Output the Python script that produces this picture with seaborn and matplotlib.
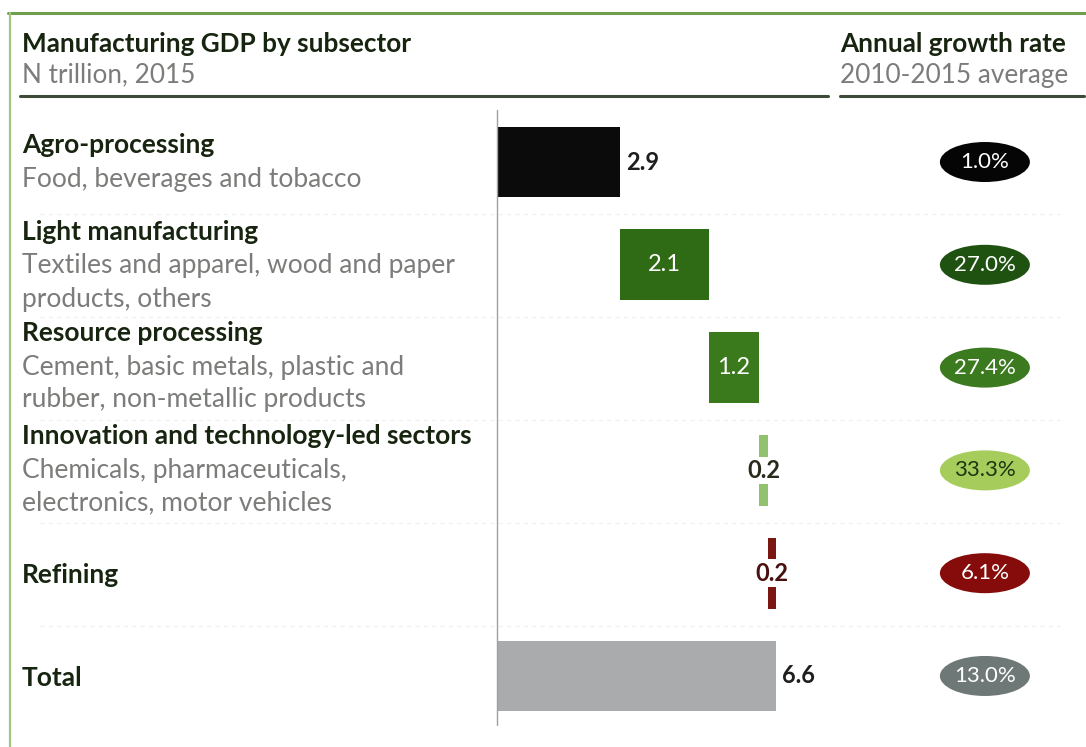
import matplotlib
matplotlib.use("Agg")
import matplotlib.pyplot as plt
from matplotlib.patches import Ellipse
import seaborn as sns
import pandas as pd

# Manufacturing GDP by subsector, N trillion (2015)
sectors = ["Agro-processing", "Light manufacturing", "Resource processing",
           "Innovation and technology-led sectors", "Refining", "Total"]
descriptions = ["Food, beverages and tobacco",
                "Textiles and apparel, wood and paper\nproducts, others",
                "Cement, basic metals, plastic and\nrubber, non-metallic products",
                "Chemicals, pharmaceuticals,\nelectronics, motor vehicles",
                "", ""]
gdp = [2.9, 2.1, 1.2, 0.2, 0.2, 6.6]
growth_labels = ["1.0%", "27.0%", "27.4%", "33.3%", "6.1%", "13.0%"]

bar_colors = ["#0b0b0b", "#2f6a14", "#3a7a1c", "#93c26e", "#7a1710", "#a9abad"]
oval_colors = ["#050505", "#1f5211", "#3b7a1f", "#a6cd5c", "#860c0c", "#6e7876"]
oval_text = ["white", "white", "white", "#1d3510", "white", "white"]
label_style = ["outside", "inside", "inside", "center", "center", "outside"]

sns.set_theme(style="white")
plt.rcParams["font.family"] = ["Lato", "DejaVu Sans"]

W, H = 1086, 747
fig = plt.figure(figsize=(W / 100, H / 100), dpi=100)
fig.patch.set_facecolor("white")


def fx(px):
    return px / W


def fy(py):
    return 1 - py / H


TXT = 19
HDR = 18.8
VAL = 17
OVAL = 16

# outer frame
fig.add_artist(plt.Line2D([fx(8), fx(1086)], [fy(13), fy(13)], color="#6f9f4c", lw=2.2))
fig.add_artist(plt.Line2D([fx(10), fx(10)], [fy(13), fy(747)], color="#a3c484", lw=1.6))

# headers
dark = "#17240f"
grey = "#7b7d7a"
fig.text(fx(22), fy(44), "Manufacturing GDP by subsector", fontsize=HDR, fontweight="bold",
         color=dark, va="center", ha="left")
fig.text(fx(22), fy(75), "N trillion, 2015", fontsize=HDR, color=grey, va="center", ha="left")
fig.text(fx(840), fy(44), "Annual growth rate", fontsize=HDR, fontweight="bold",
         color=dark, va="center", ha="left")
fig.text(fx(840), fy(75), "2010-2015 average", fontsize=HDR, color=grey, va="center", ha="left")
fig.add_artist(plt.Line2D([fx(20), fx(828)], [fy(96), fy(96)], color="#3e4a38", lw=2.2))
fig.add_artist(plt.Line2D([fx(840), fx(1084)], [fy(96), fy(96)], color="#3e4a38", lw=2.2))

# faint row separators
for sy in [214, 317, 420, 523, 626]:
    fig.add_artist(plt.Line2D([fx(40), fx(1060)], [fy(sy), fy(sy)], color="#f0f0f0",
                              lw=1, ls=(0, (3, 3)), zorder=0))

# waterfall bars
df = pd.DataFrame({"sector": sectors, "gdp": gdp})
ax = fig.add_axes([fx(497), fy(725), fx(830) - fx(497), fy(110) - fy(725)])
sns.barplot(data=df, x="gdp", y="sector", hue="sector", palette=bar_colors,
            legend=False, width=0.69, orient="h", ax=ax, saturation=1)

starts = []
running = 0.0
for i, v in enumerate(gdp):
    if i == len(gdp) - 1:
        starts.append(0.0)
    else:
        starts.append(running)
        running += v

for i, patch in enumerate(ax.patches):
    patch.set_x(starts[i])
    patch.set_edgecolor("none")

ax.set_xlim(0, 7.87)
ax.set_ylim(5.477, -0.506)
ax.axis("off")
ax.plot([0, 0], [-0.506, 5.477], color="#a0a0a0", lw=1, clip_on=False)

for i, v in enumerate(gdp):
    end = starts[i] + v
    if label_style[i] == "outside":
        ax.text(end + 0.14, i, f"{v:.1f}", ha="left", va="center", fontsize=VAL,
                fontweight="bold", color="#1e1e1e")
    elif label_style[i] == "inside":
        ax.text(starts[i] + v / 2, i, f"{v:.1f}", ha="center", va="center", fontsize=VAL,
                color="white")
    else:
        ax.text(starts[i] + v / 2, i, f"{v:.1f}", ha="center", va="center", fontsize=VAL,
                fontweight="bold", color="#2a2a1a" if i == 3 else "#4a1010",
                bbox=dict(boxstyle="square,pad=0.1", fc="white", ec="none"))

# left labels
name_y = [145, 232, 333, 436, 575, 678]
for i, name in enumerate(sectors):
    fig.text(fx(22), fy(name_y[i]), name, fontsize=TXT, fontweight="bold", color=dark,
             va="center", ha="left")
    if descriptions[i]:
        for j, line in enumerate(descriptions[i].split("\n")):
            fig.text(fx(22), fy(name_y[i] + 34 + j * 33), line, fontsize=TXT, color=grey,
                     va="center", ha="left")

# growth ovals
ax2 = fig.add_axes([fx(840), fy(725), fx(1086) - fx(840), fy(110) - fy(725)])
ax2.set_xlim(0, 1)
ax2.set_ylim(5.477, -0.506)
ax2.axis("off")
ow = 90 / (1086 - 840)
oh = 40 / 102.8
for i, g in enumerate(growth_labels):
    ax2.add_patch(Ellipse((0.589, i), ow, oh, facecolor=oval_colors[i], edgecolor="none"))
    ax2.text(0.589, i, g, ha="center", va="center", fontsize=OVAL, color=oval_text[i])

fig.savefig("out.png", dpi=100, facecolor="white")
